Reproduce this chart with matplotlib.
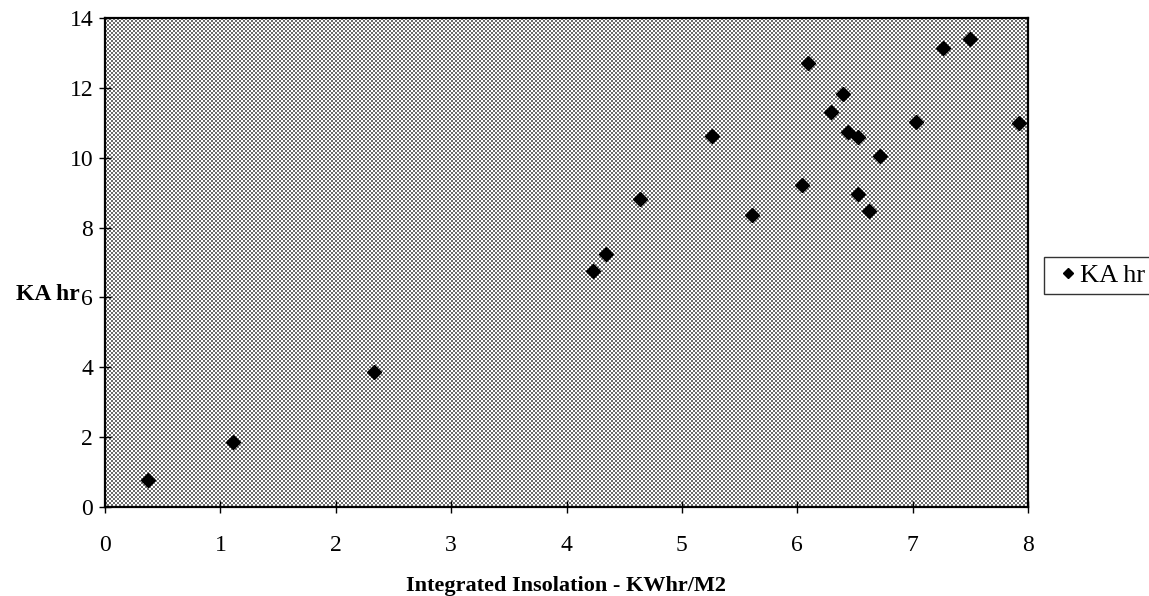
import numpy as np
import matplotlib
matplotlib.use("Agg")
import matplotlib.pyplot as plt

# Integrated insolation (KWhr/M2) vs. charge (KA hr)
insolation = [0.37, 1.11, 2.33, 4.23, 4.34, 4.64, 5.26, 5.61, 6.04, 6.09,
              6.29, 6.40, 6.44, 6.53, 6.53, 6.62, 6.72, 7.03, 7.26, 7.50,
              7.92]
ka_hr = [0.77, 1.85, 3.86, 6.77, 7.25, 8.81, 10.61, 8.37, 9.21, 12.71,
         11.31, 11.83, 10.74, 10.59, 8.96, 8.48, 10.04, 11.03, 13.13, 13.40,
         11.00]

x_ticks = [0, 1, 2, 3, 4, 5, 6, 7, 8]
y_ticks = [0, 2, 4, 6, 8, 10, 12, 14]

plt.rcParams["font.family"] = ["Liberation Serif", "DejaVu Serif"]

W, H = 1149, 596
fig = plt.figure(figsize=(W / 100, H / 100), dpi=100, facecolor="white")
# plot area in whole pixels so the stipple maps 1:1
left_px, bottom_px, w_px, h_px = 105, 89, 923, 489
ax = fig.add_axes([left_px / W, bottom_px / H, w_px / W, h_px / H])

# stippled plot-area fill: 2px checker dots
yy, xx = np.mgrid[0:h_px, 0:w_px]
checker = ((xx // 2 + yy // 2) % 2).astype(float)
ax.imshow(checker, cmap="gray", vmin=-0.75, vmax=1.0, extent=[0, 8, 0, 14],
          aspect="auto", interpolation="nearest", zorder=0)

ax.plot(insolation, ka_hr, linestyle="none", marker="D", markersize=7,
        color="black", label="KA hr", zorder=3)

ax.set_xlim(0, 8)
ax.set_ylim(0, 14)
ax.set_xticks(x_ticks)
ax.set_yticks(y_ticks)
ax.tick_params(direction="inout", length=9, width=1, labelsize=17, pad=4)
ax.tick_params(axis="x", pad=16)
for side in ax.spines.values():
    side.set_linewidth(1.6)

ax.set_xlabel("Integrated Insolation - KWhr/M2", fontsize=16,
              fontweight="bold", labelpad=14)
ax.set_ylabel("KA hr", fontsize=17, fontweight="bold", rotation=0,
              ha="right", va="center")
ax.yaxis.set_label_coords(-0.027, 0.435)

# legend sits against the right edge; its text runs off the figure
leg = ax.legend(loc="center left", bbox_to_anchor=(1.003, 0.474),
                fontsize=19, frameon=True, fancybox=False, handlelength=1.3,
                handletextpad=-0.2, borderpad=0.25, markerscale=0.75)
leg.get_frame().set_edgecolor("black")
leg.get_frame().set_linewidth(1.0)

fig.savefig("out.png", dpi=100, facecolor="white")
